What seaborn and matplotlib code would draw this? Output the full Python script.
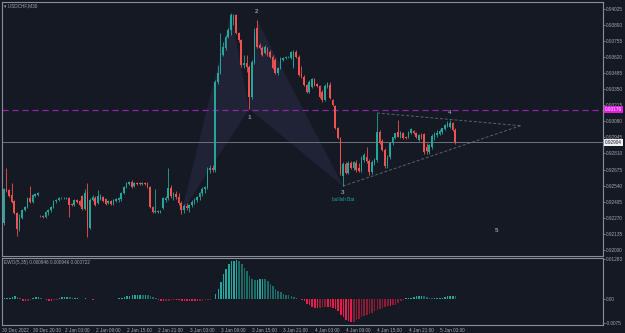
import matplotlib
matplotlib.use("Agg")
import numpy as np
import pandas as pd
import matplotlib.pyplot as plt
import seaborn as sns

# USDCHF M30 candles, prices in points (1e-5)
opens = [92193, 92227, 92512, 92504, 92462, 92412, 92311, 92177, 92269, 92336,
         92361, 92437, 92403, 92454, 92462, 92286, 92286, 92277, 92319, 92336,
         92361, 92412, 92420, 92437, 92437, 92437, 92437, 92386, 92378, 92420,
         92412, 92454, 92345, 92487, 92185, 92420, 92437, 92395, 92428, 92445,
         92428, 92395, 92412, 92386, 92412, 92420, 92428, 92479, 92529, 92554,
         92571, 92537, 92563, 92563, 92554, 92563, 92563, 92529, 92361, 92319,
         92319, 92319, 92353, 92420, 92437, 92521, 92454, 92470, 92445, 92395,
         92336, 92370, 92353, 92378, 92403, 92420, 92445, 92479, 92512, 92529,
         92672, 92689, 92672, 93410, 93485, 93637, 93695, 93788, 93846, 93939,
         93972, 93821, 93762, 93553, 93569, 93536, 93284, 93578, 93863, 93720,
         93695, 93653, 93687, 93662, 93620, 93595, 93485, 93527, 93595, 93611,
         93620, 93611, 93544, 93662, 93620, 93477, 93452, 93385, 93326, 93368,
         93435, 93393, 93376, 93326, 93259, 93368, 93385, 93259, 93209, 93024,
         92940, 92621, 92722, 92646, 92730, 92689, 92730, 92689, 92663, 92756,
         92781, 92747, 92655, 92730, 92756, 92990, 92915, 92840, 92705, 92781,
         92898, 92940, 92990, 92949, 92982, 92949, 92949, 92982, 92999, 92982,
         92923, 92965, 92974, 92865, 92823, 92865, 92940, 92965, 92974, 92990,
         93015, 93041, 93033, 93066, 93007]
highs = [92294, 92521, 92689, 92512, 92563, 92420, 92319, 92303, 92345, 92370,
         92445, 92537, 92470, 92479, 92487, 92294, 92294, 92328, 92345, 92370,
         92420, 92428, 92445, 92445, 92445, 92445, 92445, 92395, 92428, 92428,
         92420, 92462, 92512, 92563, 92437, 92462, 92454, 92504, 92470, 92454,
         92437, 92420, 92420, 92428, 92437, 92445, 92487, 92537, 92571, 92579,
         92588, 92571, 92571, 92571, 92571, 92571, 92571, 92537, 92370, 92512,
         92336, 92336, 92445, 92454, 92689, 92546, 92487, 92495, 92479, 92412,
         92386, 92395, 92386, 92420, 92437, 92454, 92487, 92529, 92537, 92697,
         92714, 92714, 93427, 93553, 93821, 93746, 93804, 93863, 93989, 93981,
         93981, 93830, 93771, 93637, 93637, 93553, 93595, 93863, 93930, 93737,
         93712, 93720, 93704, 93679, 93637, 93611, 93536, 93620, 93620, 93628,
         93628, 93670, 93679, 93679, 93637, 93544, 93469, 93393, 93427, 93444,
         93444, 93402, 93385, 93343, 93393, 93410, 93410, 93267, 93217, 93033,
         92949, 92739, 92739, 92747, 92747, 92747, 92756, 92730, 92789, 92814,
         92865, 92764, 92756, 92772, 93150, 93007, 92932, 92856, 92798, 92898,
         92949, 92982, 93091, 92999, 92990, 92957, 92999, 93024, 93007, 92990,
         92974, 92982, 92982, 92898, 92890, 92974, 92990, 93007, 93015, 93024,
         93058, 93083, 93091, 93074, 93024]
lows = [92168, 92210, 92487, 92445, 92395, 92303, 92118, 92160, 92261, 92328,
        92353, 92395, 92395, 92445, 92454, 92277, 92269, 92269, 92294, 92319,
        92353, 92395, 92412, 92428, 92428, 92428, 92277, 92370, 92370, 92395,
        92370, 92336, 92336, 92110, 92177, 92412, 92370, 92386, 92420, 92403,
        92378, 92386, 92378, 92378, 92403, 92403, 92412, 92470, 92521, 92546,
        92521, 92529, 92546, 92546, 92546, 92546, 92521, 92353, 92311, 92311,
        92311, 92311, 92345, 92403, 92420, 92437, 92420, 92428, 92378, 92303,
        92311, 92336, 92319, 92361, 92386, 92403, 92420, 92454, 92479, 92512,
        92646, 92655, 92655, 93393, 93477, 93628, 93679, 93779, 93804, 93888,
        93813, 93746, 93536, 93527, 93494, 93183, 93267, 93561, 93695, 93687,
        93628, 93645, 93628, 93611, 93519, 93477, 93469, 93519, 93586, 93603,
        93611, 93603, 93527, 93611, 93460, 93444, 93376, 93318, 93318, 93360,
        93376, 93368, 93276, 93242, 93251, 93360, 93267, 93209, 93015, 92932,
        92630, 92537, 92638, 92638, 92680, 92672, 92655, 92655, 92655, 92739,
        92730, 92630, 92638, 92714, 92739, 92890, 92831, 92689, 92689, 92764,
        92882, 92932, 92949, 92940, 92932, 92932, 92940, 92974, 92974, 92940,
        92915, 92932, 92806, 92806, 92806, 92848, 92923, 92949, 92965, 92974,
        93007, 93033, 93024, 92999, 92890]
closes = [92277, 92512, 92495, 92454, 92403, 92311, 92177, 92269, 92336, 92361,
          92437, 92403, 92462, 92470, 92479, 92286, 92277, 92319, 92336, 92361,
          92412, 92420, 92437, 92437, 92437, 92437, 92378, 92378, 92420, 92403,
          92378, 92345, 92479, 92185, 92420, 92445, 92378, 92454, 92462, 92412,
          92386, 92412, 92386, 92420, 92428, 92437, 92479, 92529, 92563, 92571,
          92529, 92563, 92554, 92554, 92563, 92554, 92529, 92361, 92319, 92328,
          92328, 92328, 92437, 92437, 92521, 92454, 92470, 92445, 92395, 92336,
          92370, 92353, 92378, 92403, 92420, 92445, 92479, 92512, 92529, 92672,
          92689, 92672, 93410, 93485, 93653, 93704, 93788, 93846, 93972, 93955,
          93821, 93762, 93553, 93569, 93536, 93284, 93578, 93821, 93704, 93695,
          93637, 93704, 93637, 93620, 93527, 93485, 93527, 93611, 93611, 93620,
          93620, 93662, 93662, 93620, 93469, 93452, 93385, 93326, 93410, 93435,
          93385, 93376, 93284, 93259, 93376, 93402, 93276, 93217, 93024, 92940,
          92646, 92722, 92646, 92730, 92689, 92739, 92672, 92663, 92772, 92798,
          92747, 92655, 92739, 92756, 92990, 92898, 92840, 92705, 92781, 92898,
          92949, 92982, 92949, 92990, 92940, 92940, 92990, 93015, 92982, 92949,
          92965, 92949, 92823, 92831, 92882, 92957, 92974, 92982, 92999, 93024,
          93050, 93066, 93066, 93007, 92907]

# EWO(5,35) histogram, units of 1e-4
ewo = [2, 3, 4, 4, 8, 10, 8, 3, -4, -5, -4, -1, 3, 6, 7, 5, 2, -2, -4, -5,
       -3, -1, 3, 6, 8, 8, 6, 3, 3, 3, 2, 2, 3, 1, 1, -1, 1, 2, 2, 1,
       1, 1, 1, 2, 2, 3, 4, 6, 9, 11, 13, 14, 15, 15, 14, 14, 13, 11, 8, 4,
       -1, -4, -6, -5, -4, -2, -1, -2, -3, -4, -4, -5, -5, -6, -6, -6, -5, -4, -3, -2,
       -1, 2, 16, 34, 56, 80, 98, 114, 122, 124, 125, 123, 114, 101, 90, 75, 64, 61, 61, 64,
       66, 64, 58, 50, 43, 34, 28, 24, 18, 15, 13, 10, 7, 4, 2, -1, -6, -14, -19, -25,
       -27, -28, -27, -26, -25, -25, -26, -27, -30, -39, -49, -58, -65, -71, -73, -72, -66, -62, -58, -54,
       -49, -46, -43, -39, -35, -32, -28, -25, -21, -21, -19, -17, -12, -6, -3, 4, 5, 5, 7, 10,
       10, 10, 9, 7, 5, 4, 4, 4, 5, 5, 6, 9, 11, 12, 11]

tick_bars = [0, 12, 24, 36, 48, 60, 72, 84, 96, 108, 120, 132, 144, 156, 168]
tick_labels = ["30 Dec 2022", "30 Dec 20:30", "2 Jan 03:00", "2 Jan 09:00", "2 Jan 15:00",
               "2 Jan 21:00", "3 Jan 03:00", "3 Jan 09:00", "3 Jan 15:00", "3 Jan 21:00",
               "4 Jan 03:00", "4 Jan 09:00", "4 Jan 15:00", "4 Jan 21:00", "5 Jan 03:00"]
price_ticks = [0.94025, 0.93890, 0.93755, 0.93620, 0.93485, 0.93350, 0.93215, 0.93080,
               0.92945, 0.92810, 0.92675, 0.92540, 0.92405, 0.92270, 0.92135, 0.92000]

# harmonic pattern points (bar, price)
pat_bars = [69, 88, 95, 98, 131]
pat_prices = [0.92311, 0.93989, 0.93183, 0.93930, 0.92537]
level_price = 0.93176
last_price = 0.92904

BG = "#151924"
TEAL = "#26a69a"
RED = "#ef5350"
TXT = "#a3a6af"
EDGE = "#8a8d96"
FS = 3.4

sns.set_theme(style="dark", rc={"axes.facecolor": BG, "figure.facecolor": BG})
plt.rcParams["font.family"] = ["Liberation Sans", "DejaVu Sans"]

df = pd.DataFrame({"open": opens, "high": highs, "low": lows, "close": closes}) / 1e5
df["bar"] = np.arange(len(df))
df["up"] = df["close"] >= df["open"]

fig = plt.figure(figsize=(6.25, 3.33), dpi=100)
ax = fig.add_axes([2 / 625, 77 / 333, 601 / 625, 254 / 333])
ax2 = fig.add_axes([2 / 625, 8 / 333, 601 / 625, 67 / 333])

# pattern shading
ax.fill(pat_bars[0:3], pat_prices[0:3], color="#1f2335", zorder=1, lw=0)
ax.fill(pat_bars[2:5], pat_prices[2:5], color="#1f2335", zorder=1, lw=0)

cols = np.where(df["up"], TEAL, RED)
ax.vlines(df["bar"], df["low"], df["high"], colors=cols, lw=0.6, zorder=3)
body = (df["close"] - df["open"]).abs().clip(lower=0.00002)
ax.bar(df["bar"], body, bottom=df[["open", "close"]].min(axis=1), width=0.62,
       color=cols, lw=0, zorder=4)

# levels
ax.axhline(level_price, color="#8e24aa", lw=0.9, dashes=(5, 3), zorder=2)
ax.axhline(last_price, color="#6f727c", lw=0.7, zorder=2)

# triangle
ax.plot([144, 199], [0.93150, 0.93043], color="#5f626c", lw=0.7, dashes=(3, 2), zorder=2)
ax.plot([131, 199], [0.92537, 0.93043], color="#5f626c", lw=0.7, dashes=(3, 2), zorder=2)

lab = dict(color="#9598a1", fontsize=4.5, ha="center", va="center", fontweight="bold")
ax.text(95, 0.93110, "1", **lab)
ax.text(98, 0.94000, "2", **lab)
ax.text(131, 0.92480, "3", **lab)
ax.text(172, 0.93150, "4", **lab)
ax.text(190, 0.92160, "5", **lab)
ax.text(131, 0.92420, "bullish Bat", color=TEAL, fontsize=FS, ha="center", va="center")

ax.set_xlim(0.3, 230.6)
ax.set_ylim(0.91950, 0.94081)
ax.yaxis.tick_right()
ax.set_yticks(price_ticks)
ax.set_yticklabels([f"{t:.5f}" for t in price_ticks])
ax.tick_params(axis="y", colors=TXT, labelsize=FS, length=1.5, width=0.5, pad=0.8)
ax.set_xticks([])
for s in ax.spines.values():
    s.set_color(EDGE)
    s.set_linewidth(0.8)

ax.text(1.003, level_price, f"{level_price:.5f}", transform=ax.get_yaxis_transform(),
        fontsize=FS, color="#f0f0f0", va="center", ha="left",
        bbox=dict(boxstyle="square,pad=0.2", fc="#e21de2", ec="none"))
ax.text(1.003, last_price, f"{last_price:.5f}", transform=ax.get_yaxis_transform(),
        fontsize=FS, color="#131722", va="center", ha="left",
        bbox=dict(boxstyle="square,pad=0.2", fc="#f0f0f0", ec="none"))

ax.text(0.004, 0.993, "\u25be USDCHF,M30", transform=ax.transAxes, fontsize=FS,
        color=TXT, va="top", ha="left")

# oscillator
ew = pd.DataFrame({"bar": np.arange(len(ewo)), "value": np.array(ewo) / 1e4})
d = ew["value"].diff().fillna(0)
ew["kind"] = np.where(ew["value"] >= 0, np.where(d >= 0, "up+", "dn+"),
                      np.where(d <= 0, "dn-", "up-"))
pal = {"up+": "#26a69a", "dn+": "#1c6b66", "dn-": "#e91e4d", "up-": "#8a1d36"}
sns.barplot(data=ew, x="bar", y="value", hue="kind", palette=pal, native_scale=True,
            dodge=False, legend=False, width=0.6, saturation=1, linewidth=0,
            edgecolor="none", ax=ax2)
ax2.set_xlim(0.3, 230.6)
ax2.set_ylim(-0.00825, 0.01326)
ax2.yaxis.tick_right()
ax2.set_yticks([0.01283, 0.0, -0.0075])
ax2.set_yticklabels(["0.01283", "0.00", "-0.0075"])
ax2.tick_params(axis="y", colors=TXT, labelsize=FS, length=1.5, width=0.5, pad=0.8)
ax2.set_xlabel("")
ax2.set_ylabel("")
ax2.set_xticks(tick_bars)
ax2.set_xticklabels(tick_labels, ha="left")
ax2.tick_params(axis="x", colors=TXT, labelsize=FS, length=1.5, width=0.5, pad=0.8)
for s in ax2.spines.values():
    s.set_color(EDGE)
    s.set_linewidth(0.8)
ax2.text(0.004, 0.97, "EWO(5,35) 0.000946 0.000946 0.000722", transform=ax2.transAxes,
         fontsize=FS, color=TXT, va="top", ha="left")

fig.savefig("out.png", dpi=100, facecolor=BG)
